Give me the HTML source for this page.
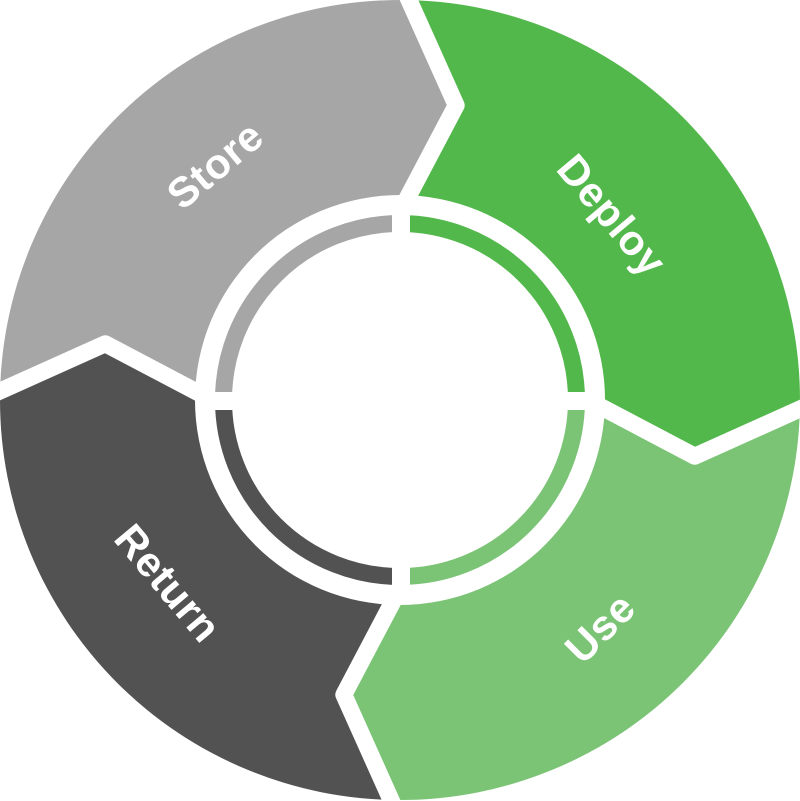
<!DOCTYPE html>
<html><head><meta charset="utf-8"><style>
html,body{margin:0;padding:0;background:#fff;}
svg{display:block;}
text{font-family:"Liberation Sans",sans-serif;font-weight:bold;fill:#fff;font-size:42px;letter-spacing:0.5px;text-anchor:middle;dominant-baseline:central;}
</style></head><body>
<svg width="800" height="801" viewBox="0 0 800 801" xmlns="http://www.w3.org/2000/svg">
<defs>
<path id="seg" d="M400,0 A400,400 0 0 1 800,400 L694.7,456.2 L605,400 A205,205 0 0 0 400,195 L456.2,105.3 Z"/>
<polyline id="cut" points="400,-20 456.2,105.3 400,212" fill="none" stroke="#fff" stroke-width="17" stroke-linejoin="round"/>
</defs>
<use href="#seg" fill="#52b84b"/>
<use href="#seg" fill="#7bc475" transform="rotate(90 400 400)"/>
<use href="#seg" fill="#525252" transform="rotate(180 400 400)"/>
<use href="#seg" fill="#a6a6a6" transform="rotate(270 400 400)"/>
<use href="#cut"/>
<use href="#cut" transform="rotate(90 400 400)"/>
<use href="#cut" transform="rotate(180 400 400)"/>
<use href="#cut" transform="rotate(270 400 400)"/>
<path d="M400,223.5 A176.5,176.5 0 0 1 576.5,400" fill="none" stroke="#52b84b" stroke-width="17"/>
<path d="M576.5,400 A176.5,176.5 0 0 1 400,576.5" fill="none" stroke="#7bc475" stroke-width="17"/>
<path d="M400,576.5 A176.5,176.5 0 0 1 223.5,400" fill="none" stroke="#525252" stroke-width="17"/>
<path d="M223.5,400 A176.5,176.5 0 0 1 400,223.5" fill="none" stroke="#a6a6a6" stroke-width="17"/>
<rect x="392" y="200" width="18" height="400" fill="#fff"/>
<rect x="200" y="392" width="400" height="18" fill="#fff"/>
<text transform="translate(215,165) rotate(-40)">Store</text>
<text transform="translate(612,215) rotate(50)">Deploy</text>
<text transform="translate(600,628) rotate(-45)">Use</text>
<text transform="translate(168,583) rotate(50)">Return</text>
</svg>
</body></html>
